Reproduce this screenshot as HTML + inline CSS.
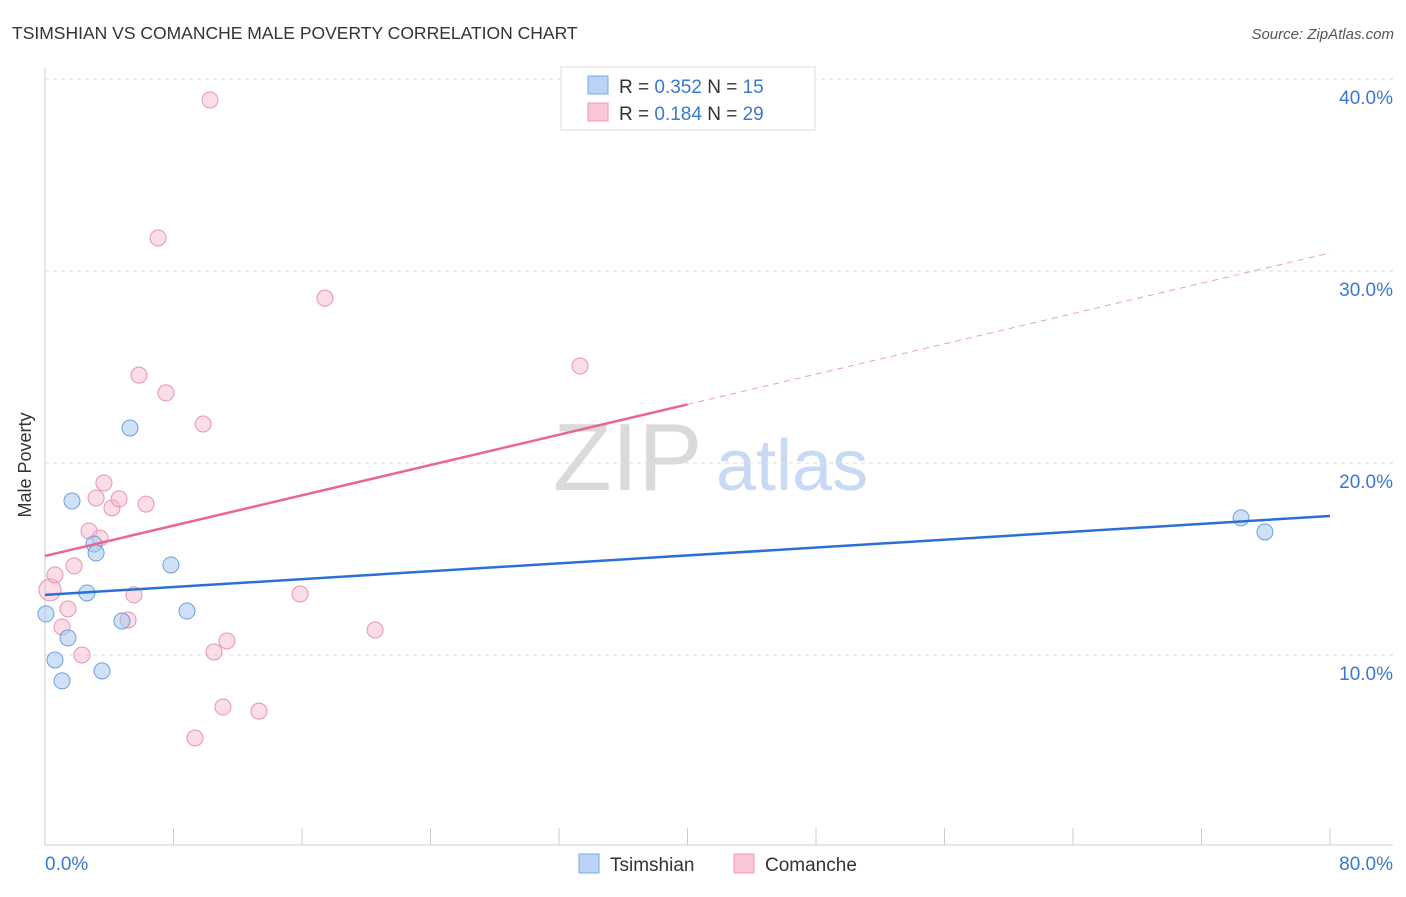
<!DOCTYPE html>
<html><head><meta charset="utf-8"><style>
body{margin:0;background:#fff;font-family:"Liberation Sans",sans-serif;}
svg text{font-family:"Liberation Sans",sans-serif;}
</style></head><body>
<svg id="chart" width="1406" height="892" xmlns="http://www.w3.org/2000/svg">
<text x="12" y="39" font-size="17.5" fill="#333">TSIMSHIAN VS COMANCHE MALE POVERTY CORRELATION CHART</text>
<text x="1394" y="39" font-size="15" fill="#555" font-style="italic" text-anchor="end">Source: ZipAtlas.com</text>
<g>
<text x="553" y="490" font-size="96" fill="#dadada" font-family="Liberation Serif,serif">ZIP</text>
<text x="716" y="490" font-size="72" fill="#c8daf3">atlas</text>
</g>
<g id="grid"></g>
<g id="axes"></g>
<g id="marks"></g>
<g id="trends"></g>
<text x="22" y="456" font-size="18" fill="#333" transform="rotate(-90 31 456)" text-anchor="middle">Male Poverty</text>
<g>
<rect x="561" y="67" width="254" height="63" fill="#fff" stroke="#ddd"/>
<rect x="588" y="76" width="20" height="18" fill="#b9d4f4" stroke="#7aa8e4"/>
<rect x="588" y="103" width="20" height="18" fill="#f9c6d6" stroke="#ee9ab5"/>
<text x="619" y="93" font-size="19" fill="#333">R = <tspan fill="#3a78d4">0.352</tspan>   N = <tspan fill="#3a78d4"> 15</tspan></text>
<text x="619" y="120" font-size="19" fill="#333">R = <tspan fill="#3a78d4"> 0.184</tspan>   N = <tspan fill="#3a78d4">29</tspan></text>
</g>
<g>
<rect x="579" y="854" width="20" height="19" fill="#b9d4f4" stroke="#7aa8e4"/>
<text x="610" y="871" font-size="19" fill="#333">Tsimshian</text>
<rect x="734" y="854" width="20" height="19" fill="#f9c6d6" stroke="#ee9ab5"/>
<text x="765" y="871" font-size="19" fill="#333">Comanche</text>
</g>
</svg>
<script>
const yTicks=[10,20,30,40];
const yTickLabels=["10.0%","20.0%","30.0%","40.0%"];
const xEndLabels=["0.0%","80.0%"];
const tsimX=[0.06,0.62,1.06,1.43,1.68,2.61,3.05,3.18,3.55,4.79,5.29,7.84,8.84,74.46,75.95];
const tsimY=[12.14,9.74,8.65,10.89,18.02,13.23,15.78,15.31,9.17,11.77,21.82,14.69,12.29,17.14,16.41];
const comX=[0.31,0.62,1.06,1.43,1.81,2.30,2.74,3.18,3.42,3.67,4.17,4.61,5.17,5.54,5.85,6.29,7.04,7.53,9.34,9.84,10.27,10.52,11.08,11.33,13.32,15.88,17.43,20.55,33.31];
const comY=[13.39,14.17,11.46,12.40,14.64,10.00,16.46,18.18,16.09,18.96,17.66,18.13,11.82,13.13,24.58,17.86,31.72,23.65,5.68,22.03,38.91,10.16,7.29,10.73,7.08,13.18,28.59,11.30,25.05];
const tsimTrend=[13.13,17.24];
const comTrend=[15.16,30.94];
const NS="http://www.w3.org/2000/svg";
const X=v=>45+v/80*1285, Y=v=>847-v*19.2;
function mk(t,a,p){const e=document.createElementNS(NS,t);for(const k in a)e.setAttribute(k,a[k]);document.getElementById(p).appendChild(e);return e;}
yTicks.forEach((t,i)=>{
 const l=mk('line',{x1:45,x2:1393,y1:Y(t),y2:Y(t),stroke:'#ddd','stroke-dasharray':'4,4'},'grid');
 
 
 const tx=mk('text',{x:1393,y:Y(t)+25,'font-size':19,fill:'#3a78d4','text-anchor':'end'},'axes');
 tx.textContent=yTickLabels[i];
 
 
});
mk('line',{x1:45,x2:45,y1:68,y2:845,stroke:'#ccc'},'axes');
mk('line',{x1:45,x2:1393,y1:845,y2:845,stroke:'#ccc'},'axes');
for(let i=0;i<=10;i++){const t=mk('line',{x1:X(i*8),x2:X(i*8),y1:828,y2:845,stroke:'#ccc'},'axes');
 
 }
const a0=mk('text',{x:45,y:870,'font-size':19,fill:'#3a78d4'},'axes');a0.textContent=xEndLabels[0];


const a1=mk('text',{x:1393,y:870,'font-size':19,fill:'#3a78d4','text-anchor':'end'},'axes');a1.textContent=xEndLabels[1];


comX.forEach((x,i)=>{const c=mk('circle',{cx:X(x),cy:Y(comY[i]),r:i==0?11:8,fill:'rgba(245,180,200,0.45)',stroke:'#eb93b0','stroke-width':1},'marks');
 
 });
tsimX.forEach((x,i)=>{const c=mk('circle',{cx:X(x),cy:Y(tsimY[i]),r:8,fill:'rgba(160,195,240,0.5)',stroke:'#6c9fe0','stroke-width':1},'marks');
 
 });
const bl=mk('line',{x1:X(0),y1:Y(tsimTrend[0]),x2:X(80),y2:Y(tsimTrend[1]),stroke:'#2a6fd6','stroke-width':2.5},'trends');


const mid=comTrend[0]+(comTrend[1]-comTrend[0])*0.5;
const pl=mk('line',{x1:X(0),y1:Y(comTrend[0]),x2:X(40),y2:Y(mid),stroke:'#e8678f','stroke-width':2.5},'trends');


const pd=mk('line',{x1:X(40),y1:Y(mid),x2:X(80),y2:Y(comTrend[1]),stroke:'#e8a0b8','stroke-width':1,'stroke-dasharray':'6,5'},'trends');


</script>
</body></html>
